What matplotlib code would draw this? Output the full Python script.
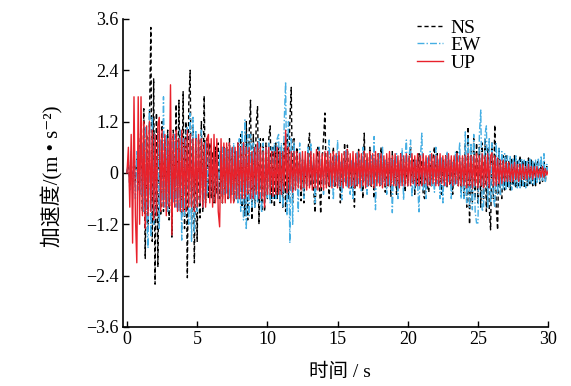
import numpy as np
import matplotlib
matplotlib.use("Agg")
import matplotlib.pyplot as plt
from matplotlib.ticker import FixedLocator, FuncFormatter

plt.rcParams['font.family'] = ['Liberation Serif', 'DejaVu Serif', 'Noto Sans CJK SC']
plt.rcParams['axes.unicode_minus'] = True

# time step of the hand-read samples (s)
dt = 0.1

# NS component, m/s^2 at 0.1 s steps
ns = [
    0.0, 0.25, -0.3, 0.2, -0.25, 0.3, -0.2, 0.35, -0.3, 0.4,
    1.1, -0.9, 1.5, -2.0, 0.9, -1.3, 1.2, 3.4, -1.6, 2.2,
    -2.6, 1.4, -2.2, 0.9, -1.0, 1.2, -0.9, 0.8, -0.7, 1.0,
    -1.1, 0.7, -1.5, 1.0, -0.6, 1.6, -0.8, 1.7, -0.5, -1.0,
    1.9, -1.3, 1.2, -2.45, 1.6, 2.4, -1.2, 1.1, -2.1, 0.9,
    -1.6, 0.8, -1.05, 1.2, -0.9, 1.8, -0.7, 0.8, -0.6, 0.7,
    -0.6, 0.5, -0.7, 0.6, -0.5, 0.7, -0.6, 0.5, -0.7, 0.6,
    -0.5, 0.6, -0.6, 0.8, -0.5, 0.6, -0.7, 0.5, -0.6, 0.7,
    -0.6, 0.9, -0.8, 0.7, -1.0, 1.2, -1.1, 0.9, 1.7, -1.1,
    0.9, -0.8, 1.1, 1.55, -1.2, 0.8, -0.9, 0.8, -0.9, 0.7,
    -0.6, 0.8, 1.1, -0.7, 0.6, -0.8, 0.7, -0.6, 0.6, -0.7,
    0.6, -0.8, 0.7, -0.9, 0.9, -0.6, 1.2, 2.0, -0.7, 0.8,
    -0.3, 0.6, -0.2, 0.35, -0.65, 0.3, -0.7, 0.25, -0.3, 0.55,
    0.93, -0.3, 0.2, -0.4, -0.93, 0.3, 0.6, -0.25, -0.95, 0.3,
    0.8, 1.4, -0.3, 0.25, -0.6, 0.3, -0.2, 0.6, -0.35, 0.2,
    -0.3, 0.4, -0.7, 0.25, -0.3, 0.7, -0.25, 0.65, -0.3, 0.2,
    -0.35, 0.3, -0.8, 0.25, -0.3, 0.55, -0.2, 0.3, -0.6, 0.93,
    -0.3, 0.35, -0.2, 0.6, -0.35, 0.25, -0.6, 0.3, -0.2, 0.45,
    -0.3, 0.6, -0.2, 0.3, -0.45, 0.2, -0.3, 0.35, -0.56, 0.5,
    -0.25, 0.3, -0.5, 0.2, -0.3, 0.45, -0.2, 0.35, -0.45, 0.25,
    -0.3, 0.35, 0.6, -0.2, 0.3, -0.5, 0.2, -0.3, 0.45, -0.25,
    0.3, -0.5, -0.6, 0.25, -0.3, -0.45, 0.2, -0.3, 0.35, 0.61,
    -0.25, 0.45, -0.3, 0.2, -0.5, 0.3, -0.2, 0.4, -0.35, 0.25,
    -0.3, 0.2, -0.5, 0.3, -0.25, 0.5, -0.3, 0.2, -0.45, 0.35,
    -0.6, 0.7, -0.8, 1.08, -1.2, 0.6, -0.7, 0.8, -0.6, 0.7,
    -0.7, 0.6, -0.8, 0.7, -0.6, 0.8, -0.9, 0.6, -0.8, -1.33,
    0.7, -0.6, 1.12, -0.8, -1.33, 0.6, -0.5, -0.6, 0.4, -0.4,
    0.4, -0.35, 0.3, -0.4, 0.35, -0.3, 0.4, -0.35, 0.3, -0.3,
    0.4, -0.3, 0.3, -0.35, 0.3, -0.3, 0.35, -0.25, 0.3, -0.3,
    0.25, -0.3, 0.2, 0.3, -0.25, 0.2, -0.2, 0.25, -0.2, 0.15,
    0.0,
]

# EW component
ew = [
    0.0, 0.3, -0.4, 0.5, -0.5, 0.4, -0.6, 0.5, -0.4, 0.6,
    -0.5, 0.7, -0.9, 1.1, -1.0, -1.76, 1.47, -1.5, 1.3, -1.2,
    0.9, -1.0, 1.0, -1.3, 0.8, -0.7, 1.78, -0.8, 0.9, -0.9,
    0.7, -0.6, 0.8, -0.7, 0.9, -0.8, 0.7, -0.9, 1.0, -1.57,
    0.8, -1.0, 0.9, 1.08, -1.2, 1.4, -1.6, 1.3, -1.4, 1.0,
    -0.9, 0.8, -0.7, 1.0, -0.8, -0.6, 0.7, -0.5, 0.6, -0.5,
    0.5, -0.6, 0.6, -0.5, 0.5, -0.6, 0.5, -0.5, 0.6, -0.5,
    0.6, -0.5, 0.5, -0.6, 0.6, -0.5, 0.7, -0.6, 0.5, -0.7,
    0.8, -0.9, 1.0, -1.1, 1.24, -1.33, 0.9, -1.0, 0.9, -0.8,
    0.7, -0.8, 0.6, -0.7, 0.8, -0.6, -0.93, 0.7, -0.7, 0.6,
    -0.6, 0.7, -0.7, 0.6, -0.6, 0.7, -0.6, 0.8, 0.9, -0.7,
    0.7, -0.8, 1.2, 2.13, -1.0, 1.2, -1.64, 0.8, -1.2, 0.7,
    -0.4, 0.3, -0.9, 0.7, -0.3, 0.35, -0.6, 0.3, -0.25, 0.6,
    -0.3, 0.7, -0.25, 0.3, -0.7, 0.35, -0.3, 0.6, -0.2, 0.3,
    -0.5, 0.3, -0.25, 0.35, 0.77, -0.3, 0.25, -0.63, 0.4, -0.2,
    0.77, -0.3, 0.25, -0.63, 0.3, -0.2, 0.55, -0.35, 0.2, -0.5,
    0.3, -0.6, 0.25, -0.3, 0.5, -0.25, 0.3, -0.45, 0.6, -0.2,
    0.3, -0.5, 0.25, -0.3, 0.4, -0.25, 0.85, -0.86, 0.3, -0.25,
    0.45, -0.3, 0.6, -0.2, 0.3, -0.5, 0.25, -0.3, 0.35, -0.93,
    0.3, -0.25, 0.45, -0.6, 0.2, -0.3, 0.58, -0.63, 0.3, 0.77,
    -0.3, 0.4, 0.77, -0.56, 0.25, -0.4, 0.3, -0.25, -0.91, 0.35,
    0.93, -0.4, 0.25, -0.6, 0.35, -0.2, 0.5, -0.3, 0.25, -0.45,
    0.6, -0.25, 0.3, -0.6, 0.35, -0.7, 0.25, -0.3, 0.5, -0.2,
    0.3, -0.6, 0.25, -0.3, 0.5, -0.25, 0.3, 0.7, -0.6, 0.3,
    -0.6, 0.96, -0.7, 0.8, -0.8, 0.7, -0.86, 0.9, -0.9, -1.17,
    -1.17, 0.9, 1.47, -0.9, -0.8, 0.9, 1.1, -0.8, 0.8, -0.7,
    0.7, -0.6, -0.8, 0.7, -0.5, 0.6, -0.5, 0.5, -0.4, 0.45,
    -0.4, 0.4, -0.35, 0.4, -0.4, 0.35, -0.3, 0.4, -0.35, 0.3,
    -0.35, 0.35, -0.3, 0.3, -0.35, 0.3, -0.3, 0.35, -0.25, 0.3,
    -0.3, 0.3, -0.25, 0.35, -0.2, 0.4, -0.2, 0.45, -0.2, 0.2,
    0.0,
]

# UP component
up = [
    0.0, 0.6, -0.8, 0.9, -1.64, 1.78, -1.0, -2.1, 1.78, -1.2,
    1.78, -1.0, 1.2, -1.3, 1.1, -1.0, 1.2, -0.9, 1.0, -1.1,
    0.9, -1.0, 1.1, 1.3, -0.9, 1.0, -0.8, 0.9, -1.0, 0.8,
    -0.8, 2.06, -1.45, 0.9, -0.8, 1.0, -0.9, 0.8, -0.9, 1.0,
    -0.9, 0.8, -0.9, 1.0, -0.8, 0.9, -0.8, 0.8, -0.9, 0.8,
    -0.8, 0.9, -0.7, 0.8, -0.8, 0.7, -0.8, 0.8, 0.9, -0.7,
    0.8, -0.8, 0.9, -0.7, 0.8, -0.9, -1.26, 0.8, -0.7, 0.7,
    -0.7, 0.7, -0.6, 0.7, -0.7, 0.6, -0.7, 0.6, -0.6, 0.7,
    -0.6, 0.6, -0.6, 0.7, -0.6, 0.6, -0.5, 0.6, -0.6, 0.5,
    -0.6, 0.6, -0.5, 0.7, -0.6, 0.6, -0.6, 0.5, -0.8, 0.6,
    -0.5, 0.6, -0.5, 0.5, -0.55, 0.5, -0.5, 0.6, -0.5, 0.5,
    -0.5, 0.5, -0.4, 1.0, -0.47, 0.6, -0.4, 0.5, -0.45, 0.5,
    -0.4, 0.5, -0.35, 0.45, -0.4, 0.5, -0.35, 0.5, -0.4, 0.45,
    -0.35, 0.5, -0.4, 0.45, -0.35, 0.55, -0.4, 0.5, -0.35, 0.45,
    -0.4, 0.5, -0.35, 0.5, -0.3, 0.45, -0.35, 0.5, -0.3, 0.45,
    -0.35, 0.5, -0.3, 0.45, -0.35, 0.5, -0.3, 0.55, -0.35, 0.45,
    -0.3, 0.5, -0.35, 0.45, -0.3, 0.5, -0.35, 0.45, -0.3, 0.5,
    -0.35, 0.45, -0.3, 0.5, -0.3, 0.45, -0.35, 0.5, -0.3, 0.45,
    -0.3, 0.45, -0.35, 0.4, -0.3, 0.45, -0.3, 0.5, -0.3, 0.4,
    -0.3, 0.45, -0.3, 0.4, -0.35, 0.45, -0.3, 0.4, -0.3, 0.45,
    -0.3, 0.4, -0.3, 0.45, -0.25, 0.4, -0.3, 0.45, -0.3, 0.4,
    -0.3, 0.45, -0.25, 0.4, -0.3, 0.4, -0.3, 0.45, -0.25, 0.4,
    -0.3, 0.4, -0.3, 0.45, -0.25, 0.4, -0.3, 0.4, -0.3, 0.45,
    -0.25, 0.4, -0.3, 0.4, -0.25, 0.45, -0.3, 0.4, -0.3, 0.4,
    -0.3, 0.4, -0.35, 0.45, -0.3, 0.4, -0.35, 0.4, -0.3, 0.45,
    -0.35, 0.4, -0.3, 0.45, -0.35, 0.4, -0.3, 0.45, -0.35, 0.4,
    0.47, -0.3, 0.4, -0.3, 0.35, -0.25, 0.3, -0.25, 0.3, -0.2,
    0.25, -0.2, 0.25, -0.2, 0.2, -0.2, 0.25, -0.15, 0.2, -0.2,
    0.2, -0.15, 0.2, -0.15, 0.15, -0.15, 0.2, -0.1, 0.15, -0.15,
    0.15, -0.1, 0.15, -0.1, 0.1, -0.1, 0.15, -0.1, 0.1, -0.05,
    0.05,
]

labels = ['NS', 'EW', 'UP']
yticks = [-3.6, -2.4, -1.2, 0, 1.2, 2.4, 3.6]
xticks = [0, 5, 10, 15, 20, 25, 30]

t = np.arange(len(ns)) * dt

fig = plt.figure(figsize=(5.71, 3.86), dpi=100)
ax = fig.add_axes([0.215, 0.153, 0.745, 0.798])

ax.plot(t, ns, ls=(0, (3, 2)), c='black', lw=1.0, label=labels[0])
ax.plot(t, ew, ls=(0, (5, 1.5, 1, 1.5)), c='#45aee3', lw=1.0, label=labels[1])
ax.plot(t, up, ls='-', c='#e8212b', lw=1.0, label=labels[2])

ax.set_xlim(-0.3, 30)
ax.set_ylim(-3.6, 3.6)
ax.xaxis.set_major_locator(FixedLocator(xticks))
ax.yaxis.set_major_locator(FixedLocator(yticks))
ax.yaxis.set_major_formatter(FuncFormatter(
    lambda v, _: '0' if abs(v) < 1e-9 else f'{v:.1f}'.replace('-', '\u2212')))

for s in ['top', 'right']:
    ax.spines[s].set_visible(False)
for s in ['left', 'bottom']:
    ax.spines[s].set_linewidth(1.2)
ax.tick_params(direction='in', length=4, width=1.0, labelsize=13, pad=3)

ax.set_xlabel('时间 / s', fontsize=14)
ax.xaxis.set_label_coords(0.511, -0.115)
ax.set_ylabel('加速度/(m • s\u207b\u00b2)', fontsize=15)
ax.yaxis.set_label_coords(-0.14, 0.49)

ax.legend(loc='upper left', bbox_to_anchor=(0.692, 1.0), frameon=False,
          fontsize=14, handlelength=1.35, handletextpad=0.35, labelspacing=0.0,
          borderpad=0.0, borderaxespad=0.0)

fig.savefig('out.png', dpi=100)
